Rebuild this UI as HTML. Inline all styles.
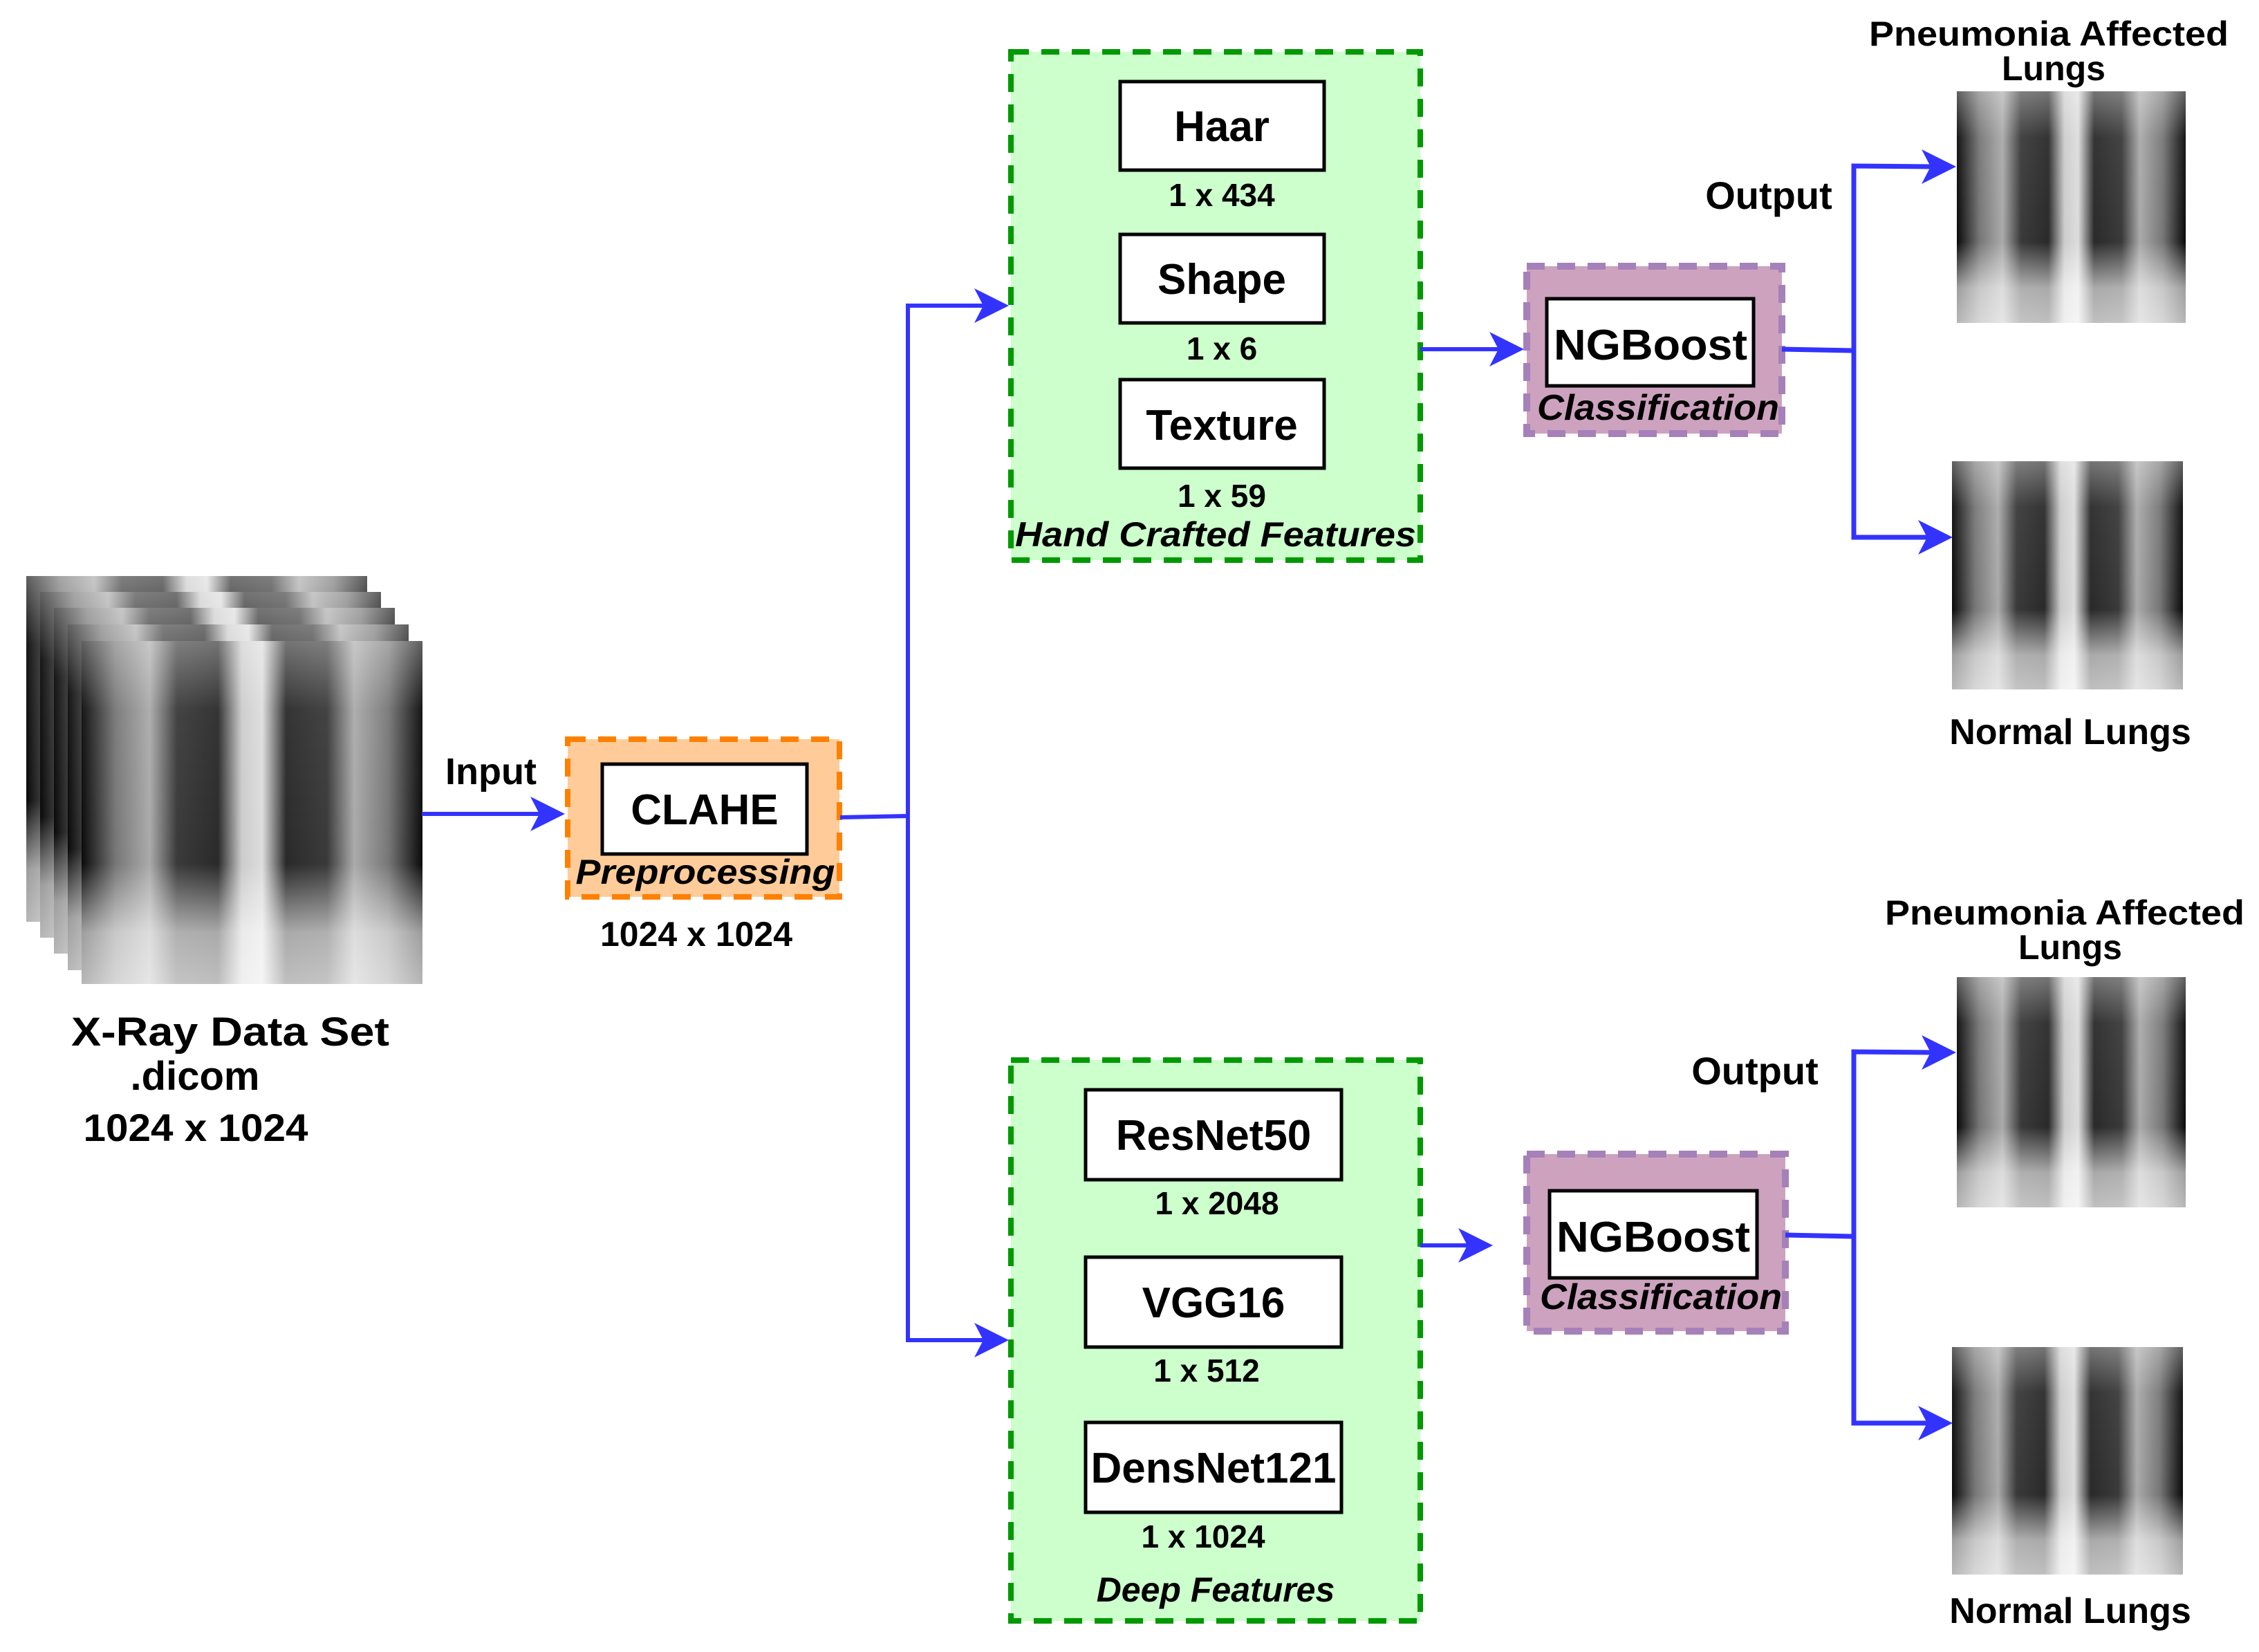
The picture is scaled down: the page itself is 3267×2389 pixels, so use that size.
<!DOCTYPE html>
<html><head><meta charset="utf-8"><style>
html,body{margin:0;padding:0;background:#fff;}
svg{display:block;}
text{font-family:"Liberation Sans",Arial,sans-serif;font-weight:bold;fill:#000;}
.it{font-style:italic;}
</style></head><body>
<svg width="3267" height="2389" viewBox="0 0 3267 2389" xmlns="http://www.w3.org/2000/svg">
<defs>
<linearGradient id="xh" x1="0" x2="1" y1="0" y2="0">
<stop offset="0" stop-color="#0a0a0a"/><stop offset="0.1" stop-color="#777"/><stop offset="0.2" stop-color="#aaa"/>
<stop offset="0.28" stop-color="#3a3a3a"/><stop offset="0.4" stop-color="#2a2a2a"/><stop offset="0.47" stop-color="#ccc"/>
<stop offset="0.53" stop-color="#ddd"/><stop offset="0.6" stop-color="#2a2a2a"/><stop offset="0.72" stop-color="#3a3a3a"/>
<stop offset="0.8" stop-color="#aaa"/><stop offset="0.9" stop-color="#777"/><stop offset="1" stop-color="#0a0a0a"/>
</linearGradient>
<linearGradient id="xv" x1="0" x2="0" y1="0" y2="1">
<stop offset="0" stop-color="#fff" stop-opacity="0.35"/><stop offset="0.2" stop-color="#fff" stop-opacity="0.05"/>
<stop offset="0.65" stop-color="#fff" stop-opacity="0"/><stop offset="0.85" stop-color="#fff" stop-opacity="0.6"/>
<stop offset="1" stop-color="#fff" stop-opacity="0.7"/>
</linearGradient>
<g id="xr">
<rect x="0" y="0" width="100" height="100" fill="url(#xh)"/>
<rect x="0" y="0" width="100" height="100" fill="url(#xv)"/>
</g>
</defs>

<!-- X-ray stack -->
<g>
<svg x="38" y="833" width="493" height="500" viewBox="0 0 100 100" preserveAspectRatio="none"><use href="#xr"/></svg>
<svg x="58" y="856" width="493" height="500" viewBox="0 0 100 100" preserveAspectRatio="none"><use href="#xr"/></svg>
<svg x="78" y="879" width="493" height="500" viewBox="0 0 100 100" preserveAspectRatio="none"><use href="#xr"/></svg>
<svg x="98" y="903" width="493" height="500" viewBox="0 0 100 100" preserveAspectRatio="none"><use href="#xr"/></svg>
<svg x="118" y="927" width="493" height="496" viewBox="0 0 100 100" preserveAspectRatio="none"><use href="#xr"/></svg>
</g>
<text x="333" y="1512" font-size="58" text-anchor="middle" textLength="460" lengthAdjust="spacingAndGlyphs">X-Ray Data Set</text>
<text x="282" y="1576" font-size="58" text-anchor="middle">.dicom</text>
<text x="283" y="1650" font-size="56" text-anchor="middle" textLength="325" lengthAdjust="spacingAndGlyphs">1024 x 1024</text>

<!-- Input arrow -->
<text x="710" y="1134" font-size="54" text-anchor="middle">Input</text>
<line x1="610" y1="1177" x2="785" y2="1177" stroke="#3333ff" stroke-width="6"/>
<polygon points="817,1177 767,1152 780,1177 767,1202" fill="#3333ff"/>

<!-- Preprocessing -->
<rect x="821" y="1069" width="393" height="228" fill="#ffcc99" stroke="#ff8000" stroke-width="8" stroke-dasharray="26 18"/>
<rect x="871" y="1105" width="296" height="130" fill="#fff" stroke="#000" stroke-width="5"/>
<text x="1019" y="1192" font-size="62" text-anchor="middle">CLAHE</text>
<text x="1020" y="1278" font-size="50" text-anchor="middle" class="it" textLength="375" lengthAdjust="spacingAndGlyphs">Preprocessing</text>
<text x="1007" y="1368" font-size="50" text-anchor="middle">1024 x 1024</text>

<!-- Splitter -->
<polyline points="1215,1182 1313,1180 1313,442 1425,442" fill="none" stroke="#3333ff" stroke-width="6"/>
<polygon points="1459,442 1409,417 1422,442 1409,467" fill="#3333ff"/>
<polyline points="1313,1180 1313,1938 1425,1938" fill="none" stroke="#3333ff" stroke-width="6"/>
<polygon points="1459,1938 1409,1913 1422,1938 1409,1963" fill="#3333ff"/>

<!-- Hand crafted -->
<rect x="1462" y="75" width="592" height="735" fill="#ccffcc" stroke="#009900" stroke-width="8" stroke-dasharray="26 18"/>
<rect x="1620" y="118" width="295" height="128" fill="#fff" stroke="#000" stroke-width="5"/>
<text x="1767" y="204" font-size="62" text-anchor="middle">Haar</text>
<text x="1767" y="298" font-size="46" text-anchor="middle">1 x 434</text>
<rect x="1620" y="339" width="295" height="128" fill="#fff" stroke="#000" stroke-width="5"/>
<text x="1767" y="425" font-size="62" text-anchor="middle">Shape</text>
<text x="1767" y="520" font-size="46" text-anchor="middle">1 x 6</text>
<rect x="1620" y="549" width="295" height="128" fill="#fff" stroke="#000" stroke-width="5"/>
<text x="1767" y="636" font-size="62" text-anchor="middle">Texture</text>
<text x="1767" y="733" font-size="46" text-anchor="middle">1 x 59</text>
<text x="1758" y="790" font-size="50" text-anchor="middle" class="it" textLength="580" lengthAdjust="spacingAndGlyphs">Hand Crafted Features</text>

<line x1="2054" y1="505" x2="2170" y2="505" stroke="#3333ff" stroke-width="6"/>
<polygon points="2204,505 2154,480 2167,505 2154,530" fill="#3333ff"/>

<rect x="2208" y="385" width="369" height="242" fill="#cda2be" stroke="#a680b8" stroke-width="10" stroke-dasharray="26 18"/>
<rect x="2237" y="432" width="299" height="126" fill="#fff" stroke="#000" stroke-width="5"/>
<text x="2387" y="520" font-size="62" text-anchor="middle" textLength="280" lengthAdjust="spacingAndGlyphs">NGBoost</text>
<text x="2398" y="607" font-size="52" text-anchor="middle" class="it" textLength="350" lengthAdjust="spacingAndGlyphs">Classification</text>

<polyline points="2577,505 2681,507 2681,240 2795,241" fill="none" stroke="#3333ff" stroke-width="7"/>
<polygon points="2829,241 2779,216 2792,241 2779,266" fill="#3333ff"/>
<polyline points="2681,505 2681,777 2790,777" fill="none" stroke="#3333ff" stroke-width="7"/>
<polygon points="2824,777 2774,752 2787,777 2774,802" fill="#3333ff"/>
<text x="2558" y="302" font-size="56" text-anchor="middle">Output</text>

<text x="2963" y="66" font-size="50" text-anchor="middle" textLength="520" lengthAdjust="spacingAndGlyphs">Pneumonia Affected</text>
<text x="2970" y="116" font-size="50" text-anchor="middle">Lungs</text>
<svg x="2830" y="132" width="331" height="335" viewBox="0 0 100 100" preserveAspectRatio="none"><use href="#xr"/></svg>
<svg x="2823" y="667" width="334" height="330" viewBox="0 0 100 100" preserveAspectRatio="none"><use href="#xr"/></svg>
<text x="2994" y="1076" font-size="52" text-anchor="middle">Normal Lungs</text>

<!-- Deep features -->
<rect x="1462" y="1533" width="592" height="811" fill="#ccffcc" stroke="#009900" stroke-width="8" stroke-dasharray="26 18"/>
<rect x="1570" y="1576" width="370" height="130" fill="#fff" stroke="#000" stroke-width="5"/>
<text x="1755" y="1663" font-size="62" text-anchor="middle">ResNet50</text>
<text x="1760" y="1756" font-size="46" text-anchor="middle">1 x 2048</text>
<rect x="1570" y="1818" width="370" height="130" fill="#fff" stroke="#000" stroke-width="5"/>
<text x="1755" y="1905" font-size="62" text-anchor="middle">VGG16</text>
<text x="1745" y="1998" font-size="46" text-anchor="middle">1 x 512</text>
<rect x="1570" y="2057" width="370" height="130" fill="#fff" stroke="#000" stroke-width="5"/>
<text x="1755" y="2144" font-size="62" text-anchor="middle" textLength="355" lengthAdjust="spacingAndGlyphs">DensNet121</text>
<text x="1740" y="2238" font-size="46" text-anchor="middle">1 x 1024</text>
<text x="1758" y="2316" font-size="50" text-anchor="middle" class="it">Deep Features</text>

<line x1="2054" y1="1801" x2="2125" y2="1801" stroke="#3333ff" stroke-width="6"/>
<polygon points="2159,1801 2109,1776 2122,1801 2109,1826" fill="#3333ff"/>

<rect x="2208" y="1669" width="374" height="256" fill="#cda2be" stroke="#a680b8" stroke-width="10" stroke-dasharray="26 18"/>
<rect x="2241" y="1722" width="300" height="126" fill="#fff" stroke="#000" stroke-width="5"/>
<text x="2391" y="1810" font-size="62" text-anchor="middle" textLength="280" lengthAdjust="spacingAndGlyphs">NGBoost</text>
<text x="2402" y="1893" font-size="52" text-anchor="middle" class="it" textLength="350" lengthAdjust="spacingAndGlyphs">Classification</text>

<polyline points="2582,1786 2681,1788 2681,1521 2795,1522" fill="none" stroke="#3333ff" stroke-width="7"/>
<polygon points="2829,1522 2779,1497 2792,1522 2779,1547" fill="#3333ff"/>
<polyline points="2681,1788 2681,2058 2790,2058" fill="none" stroke="#3333ff" stroke-width="7"/>
<polygon points="2824,2058 2774,2033 2787,2058 2774,2083" fill="#3333ff"/>
<text x="2538" y="1568" font-size="56" text-anchor="middle">Output</text>

<text x="2986" y="1337" font-size="50" text-anchor="middle" textLength="520" lengthAdjust="spacingAndGlyphs">Pneumonia Affected</text>
<text x="2994" y="1387" font-size="50" text-anchor="middle">Lungs</text>
<svg x="2830" y="1413" width="331" height="333" viewBox="0 0 100 100" preserveAspectRatio="none"><use href="#xr"/></svg>
<svg x="2823" y="1948" width="334" height="329" viewBox="0 0 100 100" preserveAspectRatio="none"><use href="#xr"/></svg>
<text x="2994" y="2347" font-size="52" text-anchor="middle">Normal Lungs</text>
</svg>
</body></html>
